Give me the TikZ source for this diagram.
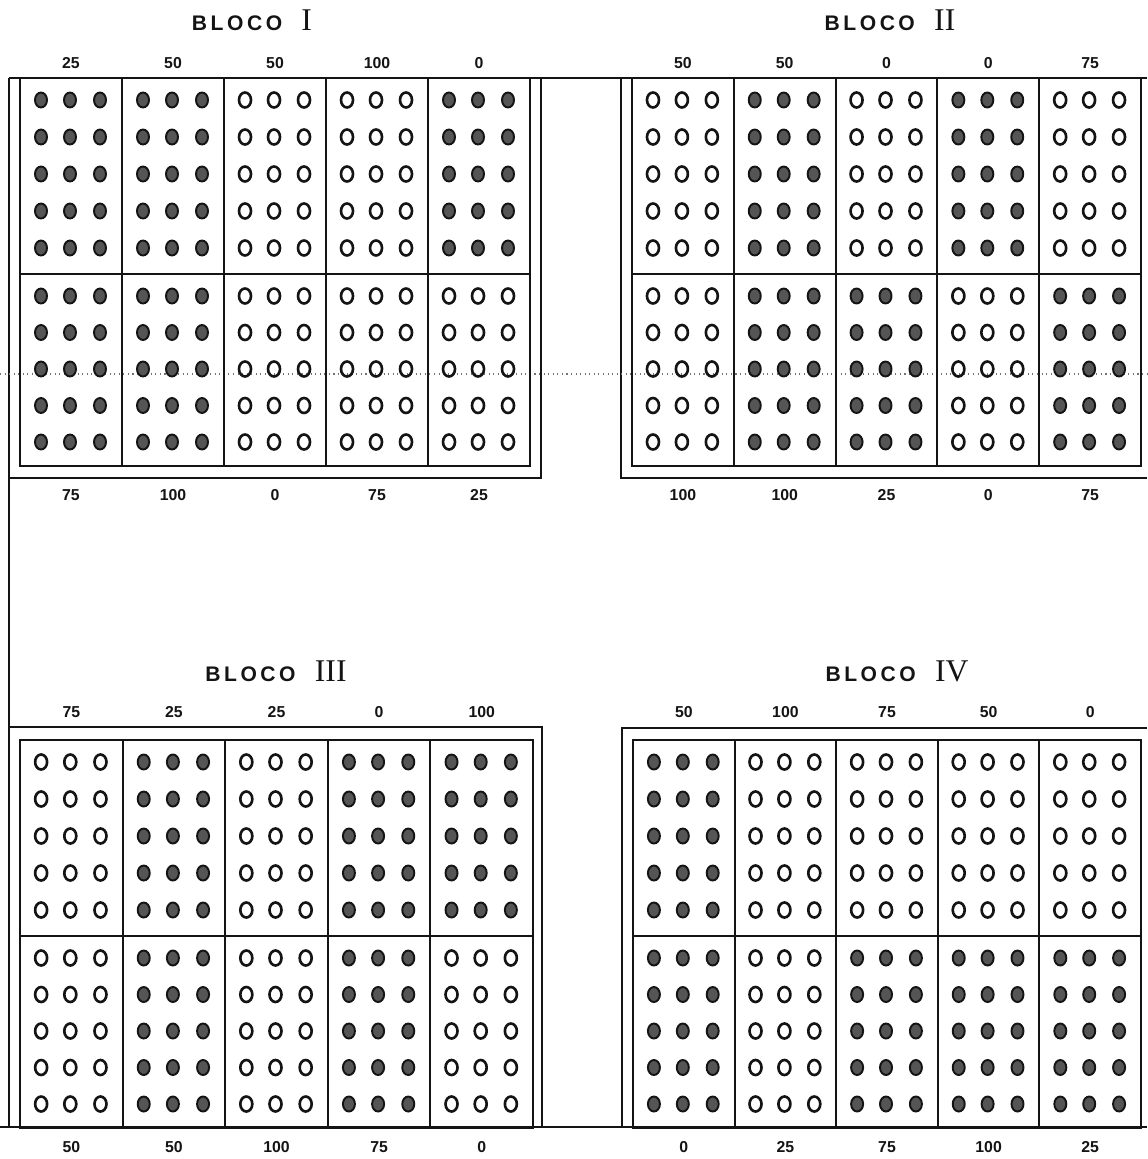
\documentclass[tikz,border=0pt]{standalone}
\usepackage{fontspec}
\newfontfamily\lblfont{Liberation Sans}
\newfontfamily\romfont{Liberation Serif}
\usepackage{tikz}
\usetikzlibrary{positioning}
\definecolor{tinta}{RGB}{20,20,20}
\definecolor{semente}{RGB}{85,85,85}

\tikzset{
  moldura/.style={draw=tinta, line width=1.3pt},
  divisa/.style={draw=tinta, line width=1.1pt},
  cheia/.style={draw=tinta, fill=semente, line width=1.1pt},
  vazia/.style={draw=tinta, line width=1.5pt},
  dose/.style={font=\lblfont\bfseries\fontsize{9}{9}\selectfont, text=tinta, inner sep=0pt},
  titulo/.style={text=tinta, inner sep=0pt},
}
\newcommand{\bloco}[1]{{\lblfont\bfseries\fontsize{12}{12}\selectfont B\,L\,O\,C\,O}\hspace{11pt}{\romfont\fontsize{18}{18}\selectfont #1}}

\begin{document}
\begin{tikzpicture}[x=0.02cm, y=-0.02cm]
  \useasboundingbox (0,0) rectangle (1147,1159);

  % titulos
  \node[titulo] (ttlI)   at (252,20)  {\bloco{I}};
  \node[titulo] (ttlII)  at (890,20)  {\bloco{II}};
  \node[titulo] (ttlIII) at (276,671) {\bloco{III}};
  \node[titulo] (ttlIV)  at (897,671) {\bloco{IV}};

  % molduras externas
  \draw[moldura] (9,78) -- (1147,78);
  \draw[moldura] (9,78) -- (9,1127);
  \draw[moldura] (541,78) -- (541,478) -- (9,478);
  \draw[moldura] (621,78) -- (621,478) -- (1147,478);
  \draw[moldura] (9,727) -- (542,727) -- (542,1127);
  \draw[moldura] (1147,728) -- (622,728) -- (622,1127);
  \draw[moldura] (0,1127) -- (1147,1127);

  % linha pontilhada
  \draw[dotted, line width=0.6pt, black!55] (0,374) -- (1147,374);

  % blocos: nome/x/y/largura/rotulo topo/rotulo base/parcelas
  \foreach \bn/\bx/\by/\bw/\ty/\uy/\cols in {
    I/20/78/510/63/495/{cheia/cheia/25/75,cheia/cheia/50/100,vazia/vazia/50/0,vazia/vazia/100/75,cheia/vazia/0/25},
    II/632/78/509/63/495/{vazia/vazia/50/100,cheia/cheia/50/100,vazia/cheia/0/25,cheia/vazia/0/0,vazia/cheia/75/75},
    III/20/740/513/712/1147/{vazia/vazia/75/50,cheia/cheia/25/50,vazia/vazia/25/100,cheia/cheia/0/75,cheia/vazia/100/0},
    IV/633/740/508/712/1147/{cheia/cheia/50/0,vazia/vazia/100/25,vazia/cheia/75/75,vazia/cheia/50/100,vazia/cheia/0/25}}{
    \pgfmathsetmacro\cw{\bw/5}
    \draw[moldura] (\bx,\by) rectangle ({\bx+\bw},{\by+388});
    \draw[divisa] (\bx,{\by+196}) -- ({\bx+\bw},{\by+196});
    \foreach \k in {1,...,4}
      \draw[divisa] ({\bx+\k*\cw},\by) -- ({\bx+\k*\cw},{\by+388});
    \foreach \tp/\bt/\lt/\lb [count=\k] in \cols {
      \pgfmathsetmacro\cx{\bx+(\k-1)*\cw}
      \node[dose] (\bn-t\k) at ({\cx+\cw/2},\ty) {\lt};
      \node[dose] (\bn-b\k) at ({\cx+\cw/2},\uy) {\lb};
      \foreach \r in {0,...,4}
        \foreach \dx in {21,50,80} {
          \path[\tp] ({\cx+\dx*\cw/102},{\by+22+37*\r}) ellipse [x radius=0.12cm, y radius=0.15cm];
          \path[\bt] ({\cx+\dx*\cw/102},{\by+218+36.5*\r}) ellipse [x radius=0.12cm, y radius=0.15cm];
        }
    }
  }
\end{tikzpicture}
\end{document}
